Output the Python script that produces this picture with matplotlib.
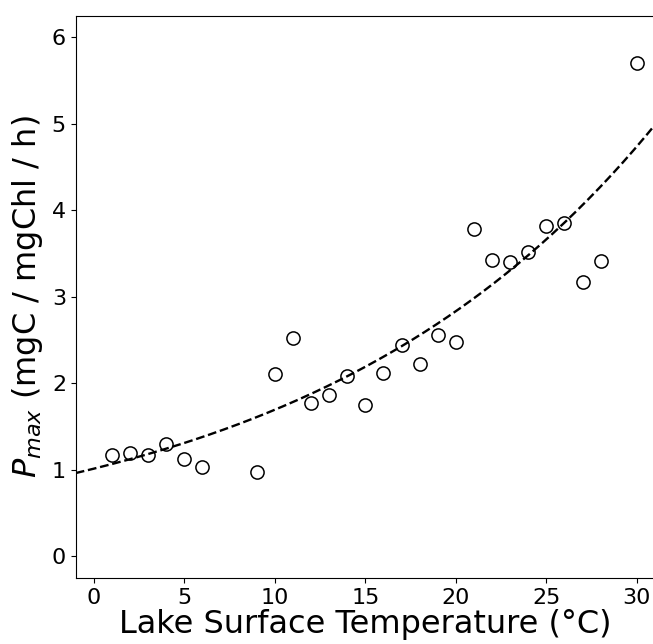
import numpy as np
import matplotlib
matplotlib.use('Agg')
import matplotlib.pyplot as plt

# lake surface temperature (degC) and measured Pmax
temperatura = [1, 2, 3, 4, 5, 6, 9, 10, 11, 12, 13, 14, 15, 16, 17, 18,
               19, 20, 21, 22, 23, 24, 25, 26, 27, 28, 30]
pmax = [1.17, 1.20, 1.17, 1.30, 1.12, 1.03, 0.98, 2.11, 2.52, 1.77, 1.87,
        2.08, 1.75, 2.12, 2.44, 2.22, 2.56, 2.48, 3.79, 3.43, 3.40, 3.52,
        3.82, 3.85, 3.17, 3.41, 5.70]

# exponential fit parameters (Pmax = a * exp(b * T))
a_fit = 1.014
b_fit = 0.0514

fig = plt.figure(figsize=(6.53, 6.44), dpi=100)
# right spine sits just past the image edge, as in the original crop
ax = fig.add_axes([0.116, 0.1025, 0.887, 0.873])

t = np.linspace(-1, 31, 200)
ax.plot(t, a_fit * np.exp(b_fit * t), 'k--', lw=1.7)
ax.plot(temperatura, pmax, 'o', mfc='none', mec='k', ms=9.5, mew=1.1)

ax.set_xlim(-1, 31)
ax.set_ylim(-0.25, 6.25)
ax.set_xticks([0, 5, 10, 15, 20, 25, 30])
ax.set_yticks([0, 1, 2, 3, 4, 5, 6])
ax.tick_params(labelsize=16)
ax.set_xlabel('Lake Surface Temperature (°C)', fontsize=23, labelpad=1)
ax.set_ylabel(r'$P_{max}$ (mgC / mgChl / h)', fontsize=23, labelpad=5)

fig.savefig('out.png', dpi=100)
